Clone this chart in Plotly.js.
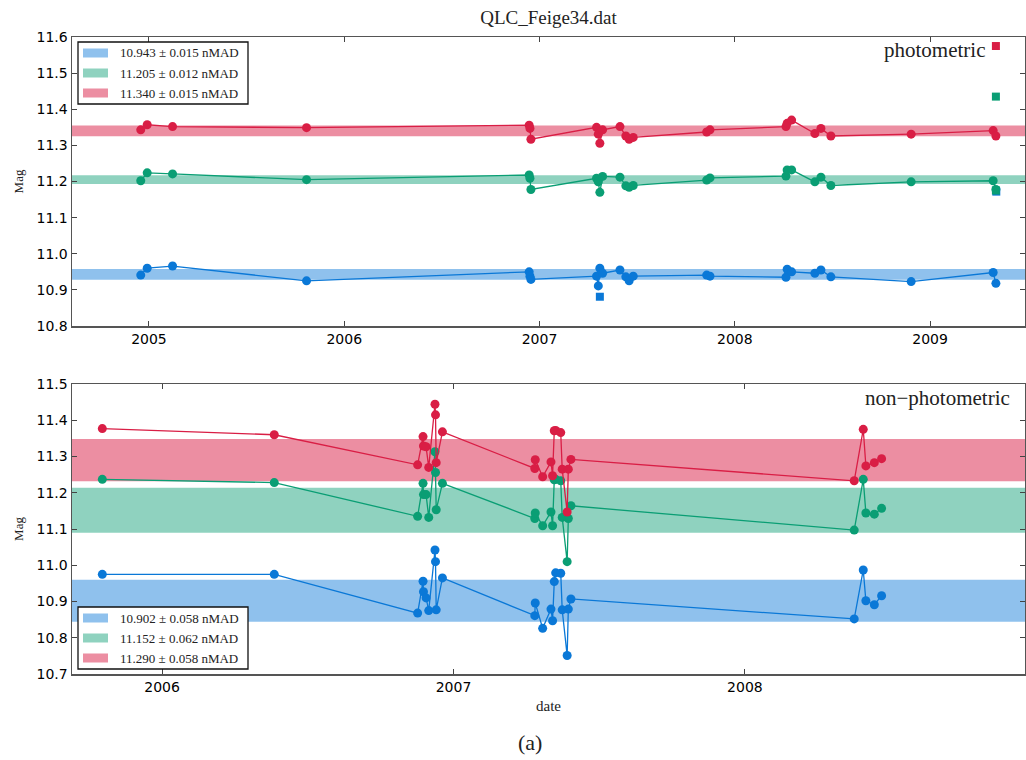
<!DOCTYPE html>
<html>
<head>
<meta charset="utf-8">
<script src="https://cdn.plot.ly/plotly-3.0.1.min.js"></script>
<style>html,body{margin:0;padding:0;background:#fff;}#chart{width:1026px;height:760px;}</style>
</head>
<body>
<div id="chart"></div>
<script>
// ---------- data (decimal years, magnitudes) ----------
const topDates = [2004.958, 2004.991, 2005.121, 2005.807, 2006.947, 2006.951, 2006.956, 2007.292, 2007.301, 2007.309, 2007.323, 2007.412, 2007.442, 2007.459, 2007.480, 2007.856, 2007.873, 2008.262, 2008.268, 2008.291, 2008.410, 2008.441, 2008.492, 2008.903, 2009.323, 2009.337];
const topBlue  = [10.941, 10.960, 10.966, 10.925, 10.950, 10.938, 10.929, 10.938, 10.911, 10.960, 10.946, 10.955, 10.936, 10.925, 10.938, 10.941, 10.938, 10.935, 10.957, 10.950, 10.946, 10.955, 10.936, 10.923, 10.948, 10.918];
const topGreen = [11.202, 11.224, 11.221, 11.205, 11.218, 11.209, 11.178, 11.209, 11.199, 11.170, 11.214, 11.212, 11.188, 11.184, 11.189, 11.204, 11.210, 11.215, 11.232, 11.232, 11.199, 11.212, 11.189, 11.199, 11.202, 11.178];
const topRed   = [11.343, 11.357, 11.352, 11.349, 11.356, 11.347, 11.317, 11.350, 11.331, 11.306, 11.343, 11.352, 11.326, 11.317, 11.322, 11.337, 11.343, 11.352, 11.361, 11.370, 11.333, 11.347, 11.326, 11.331, 11.341, 11.326];

const topBlueSqX  = [2007.309, 2009.339];
const topBlueSqY  = [10.881, 11.172];
const topGreenSqX = [2009.337, 2009.337];
const topGreenSqY = [11.435, 11.175];
const topRedSqX   = [2009.337];
const topRedSqY   = [11.575];

const botDates = [2005.795, 2006.385, 2006.877, 2006.8955, 2006.897, 2006.906, 2006.915, 2006.9365, 2006.9383, 2006.9407, 2006.962, 2007.279, 2007.2805, 2007.306, 2007.3345, 2007.340, 2007.3458, 2007.3506, 2007.368, 2007.373, 2007.390, 2007.394, 2007.403, 2008.375, 2008.406, 2008.415, 2008.444, 2008.469];
const botBlue  = [10.975, 10.975, 10.868, 10.956, 10.927, 10.910, 10.875, 11.042, 11.010, 10.877, 10.965, 10.861, 10.896, 10.826, 10.879, 10.847, 10.955, 10.979, 10.978, 10.877, 10.751, 10.879, 10.907, 10.852, 10.987, 10.902, 10.891, 10.916];
const botGreen = [11.237, 11.228, 11.135, 11.226, 11.195, 11.195, 11.132, 11.313, 11.256, 11.153, 11.226, 11.129, 11.144, 11.109, 11.147, 11.109, 11.236, 11.237, 11.233, 11.132, 11.010, 11.129, 11.164, 11.097, 11.237, 11.144, 11.141, 11.157];
const botRed   = [11.377, 11.360, 11.277, 11.355, 11.329, 11.327, 11.270, 11.444, 11.415, 11.283, 11.368, 11.267, 11.291, 11.244, 11.285, 11.247, 11.371, 11.372, 11.366, 11.265, 11.147, 11.265, 11.292, 11.233, 11.375, 11.274, 11.283, 11.294];

// band centres and nMAD widths (order: blue, green, red)
const topMean = [10.943, 11.205, 11.340];
const topNmad = [0.015, 0.012, 0.015];
const botMean = [10.902, 11.152, 11.290];
const botNmad = [0.058, 0.062, 0.058];

const topYTicks = [10.8, 10.9, 11.0, 11.1, 11.2, 11.3, 11.4, 11.5, 11.6];
const botYTicks = [10.7, 10.8, 10.9, 11.0, 11.1, 11.2, 11.3, 11.4, 11.5];
const topXTicks = [2005, 2006, 2007, 2008, 2009];
const botXTicks = [2006, 2007, 2008];

// ---------- styling ----------
const colors = ['#0a78d7', '#0a9e74', '#d91e45'];
const bandColors = ['rgba(10,120,215,0.46)', 'rgba(10,158,116,0.46)', 'rgba(217,30,69,0.5)'];
const serif = 'Liberation Serif, DejaVu Serif, serif';
const sans = 'DejaVu Sans, sans-serif';

const traces = [];
function addPanel(xa, ya, dates, series, means, nmads) {
  // bands
  means.forEach((m, i) => {
    traces.push({
      type: 'scatter', mode: 'lines', xaxis: xa, yaxis: ya,
      x: [2004, 2010, 2010, 2004], y: [m - nmads[i], m - nmads[i], m + nmads[i], m + nmads[i]],
      fill: 'toself', fillcolor: bandColors[i], line: {width: 0}, hoverinfo: 'skip', showlegend: false
    });
  });
  series.forEach((s, i) => {
    traces.push({
      type: 'scatter', mode: 'lines+markers', xaxis: xa, yaxis: ya,
      x: dates, y: s, line: {color: colors[i], width: 1.3},
      marker: {color: colors[i], size: 9}, showlegend: false
    });
  });
}
addPanel('x', 'y', topDates, [topBlue, topGreen, topRed], topMean, topNmad);
addPanel('x2', 'y2', botDates, [botBlue, botGreen, botRed], botMean, botNmad);

[[topBlueSqX, topBlueSqY, 0], [topGreenSqX, topGreenSqY, 1], [topRedSqX, topRedSqY, 2]].forEach(([xs, ys, ci]) => {
  traces.push({
    type: 'scatter', mode: 'markers', xaxis: 'x', yaxis: 'y', x: xs, y: ys,
    marker: {symbol: 'square', color: colors[ci], size: 8}, showlegend: false
  });
});

// ---------- geometry (pixels) ----------
const W = 1026, H = 760;
const L = 72, R = 1025, T = 37, B = 674;
const topPanel = [37, 326], botPanel = [384, 674];
const dom = y => (B - y) / (B - T);

function axisCommon() {
  return {
    showgrid: false, zeroline: false, showline: true, mirror: 'ticks',
    linecolor: '#555', linewidth: 1.5, ticks: 'inside', ticklen: 5, tickcolor: '#444', tickwidth: 1,
    tickfont: {family: sans, size: 14, color: '#000'}
  };
}

const layout = {
  width: W, height: H,
  margin: {l: L, r: W - R, t: T, b: H - B, pad: 0},
  paper_bgcolor: '#fff', plot_bgcolor: '#fff',
  showlegend: false,
  title: {text: 'QLC_Feige34.dat', font: {family: serif, size: 19, color: '#222'}, x: 0.5, xref: 'paper', xanchor: 'center', y: 1 - 17 / H, yref: 'container', yanchor: 'middle'},
  xaxis: Object.assign(axisCommon(), {domain: [0, 1], anchor: 'y', range: [2004.606, 2009.486], tickvals: topXTicks, ticktext: topXTicks.map(String)}),
  yaxis: Object.assign(axisCommon(), {domain: [dom(topPanel[1]), 1], anchor: 'x', range: [10.8, 11.6], tickvals: topYTicks, ticktext: topYTicks.map(v => v.toFixed(1)),
    title: {text: 'Mag', font: {family: serif, size: 13, color: '#222'}, standoff: 10}}),
  xaxis2: Object.assign(axisCommon(), {domain: [0, 1], anchor: 'y2', range: [2005.691, 2008.961], tickvals: botXTicks, ticktext: botXTicks.map(String),
    title: {text: 'date', font: {family: serif, size: 15, color: '#222'}, standoff: 6}}),
  yaxis2: Object.assign(axisCommon(), {domain: [0, dom(botPanel[0])], anchor: 'x2', range: [10.7, 11.5], tickvals: botYTicks, ticktext: botYTicks.map(v => v.toFixed(1)),
    title: {text: 'Mag', font: {family: serif, size: 13, color: '#222'}, standoff: 10}}),
  shapes: [], annotations: []
};

// ---------- legends (drawn in subplot-domain coordinates) ----------
function addLegend(xref, yref, panel, box, rows, means, nmads) {
  const h = panel[1] - panel[0];
  const fx = x => (x - L) / (R - L);
  const fy = y => (panel[1] - y) / h;
  layout.shapes.push({type: 'rect', xref, yref, x0: fx(box[0]), x1: fx(box[2]), y0: fy(box[3]), y1: fy(box[1]),
    line: {color: '#111', width: 1.3}, fillcolor: '#fff', layer: 'above'});
  rows.forEach((yc, i) => {
    layout.shapes.push({type: 'rect', xref, yref, x0: fx(box[0] + 5), x1: fx(box[0] + 30), y0: fy(yc + 4.5), y1: fy(yc - 4.5),
      line: {width: 0}, fillcolor: bandColors[i], layer: 'above'});
    layout.annotations.push({xref, yref, x: fx(box[0] + 40), y: fy(yc), xanchor: 'left', yanchor: 'middle', showarrow: false,
      text: means[i].toFixed(3) + ' \u00b1 ' + nmads[i].toFixed(3) + ' nMAD', font: {family: serif, size: 13, color: '#222'}});
  });
}
addLegend('x domain', 'y domain', topPanel, [78, 42, 248, 104], [53, 73, 93], topMean, topNmad);
addLegend('x2 domain', 'y2 domain', botPanel, [78, 607, 248, 669], [618, 638, 658], botMean, botNmad);

layout.annotations.push(
  {xref: 'x domain', yref: 'y domain', x: (987 - L) / (R - L), y: (topPanel[1] - 50) / (topPanel[1] - topPanel[0]), xanchor: 'right', yanchor: 'middle', showarrow: false,
   text: 'photometric', font: {family: serif, size: 21, color: '#222'}},
  {xref: 'x2 domain', yref: 'y2 domain', x: (1012 - L) / (R - L), y: (botPanel[1] - 398) / (botPanel[1] - botPanel[0]), xanchor: 'right', yanchor: 'middle', showarrow: false,
   text: 'non\u2212photometric', font: {family: serif, size: 21, color: '#222'}},
  {xref: 'paper', yref: 'paper', x: (530 - L) / (R - L), y: (B - 742) / (B - T), xanchor: 'center', yanchor: 'middle', showarrow: false,
   text: '(a)', font: {family: serif, size: 22, color: '#222'}}
);

Plotly.newPlot('chart', traces, layout, {displayModeBar: false, staticPlot: true});
</script>
</body>
</html>
